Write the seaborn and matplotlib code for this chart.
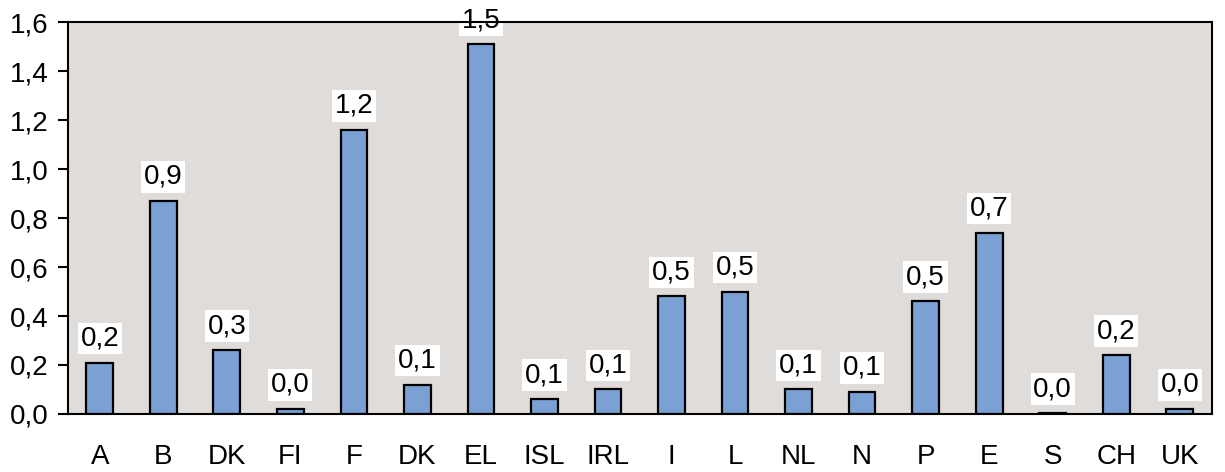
import numpy as np
import pandas as pd
import matplotlib
matplotlib.use("Agg")
import matplotlib.pyplot as plt
import seaborn as sns

# values
countries = ["A", "B", "DK", "FI", "F", "DK", "EL", "ISL", "IRL", "I",
             "L", "NL", "N", "P", "E", "S", "CH", "UK"]
values = [0.21, 0.87, 0.26, 0.02, 1.16, 0.12, 1.51, 0.06, 0.10, 0.48,
          0.50, 0.10, 0.09, 0.46, 0.74, 0.003, 0.24, 0.02]
y_ticks = [0.0, 0.2, 0.4, 0.6, 0.8, 1.0, 1.2, 1.4, 1.6]

df = pd.DataFrame({"pos": range(len(countries)), "country": countries, "value": values})

sns.set_style("white")
plt.rcParams["font.family"] = ["Liberation Sans", "DejaVu Sans"]
plt.rcParams["text.color"] = "black"
plt.rcParams["xtick.color"] = "black"
plt.rcParams["ytick.color"] = "black"

fs = 20

fig = plt.figure(figsize=(12.25, 4.72), dpi=100)
ax = fig.add_axes([0.0555, 0.123, 0.9335, 0.830])
ax.set_facecolor("#E0DCDA")

sns.barplot(data=df, x="pos", y="value", color="#7AA0D4", saturation=1,
            edgecolor="black", linewidth=1.6, width=0.42, ax=ax, zorder=2)

for i, v in enumerate(values):
    ax.annotate(f"{v:.1f}".replace(".", ","), (i, v), xytext=(0, 8),
                textcoords="offset points", ha="center", va="bottom",
                fontsize=fs, zorder=1.5,
                bbox=dict(boxstyle="square,pad=0.1", fc="white", ec="none"))

ax.set_xlim(-0.5, len(countries) - 0.5)
ax.set_ylim(0, 1.6)
ax.set_yticks(y_ticks)
ax.set_yticklabels([f"{t:.1f}".replace(".", ",") for t in y_ticks], fontsize=fs)
ax.set_xticks(range(len(countries)))
ax.set_xticklabels(countries, fontsize=fs)
ax.set_xticks(np.arange(-0.5, len(countries), 1.0), minor=True)
ax.tick_params(axis="x", which="major", length=0, pad=22)
ax.tick_params(axis="x", which="minor", length=7, width=1.5, direction="out", color="black")
ax.tick_params(axis="y", length=7, width=1.5, direction="out", color="black", pad=7, left=True)
ax.set_xlabel("")
ax.set_ylabel("")
for s in ax.spines.values():
    s.set_visible(True)
    s.set_color("black")
    s.set_linewidth(1.5)
    s.set_zorder(3)

fig.savefig("out.png", dpi=100)
